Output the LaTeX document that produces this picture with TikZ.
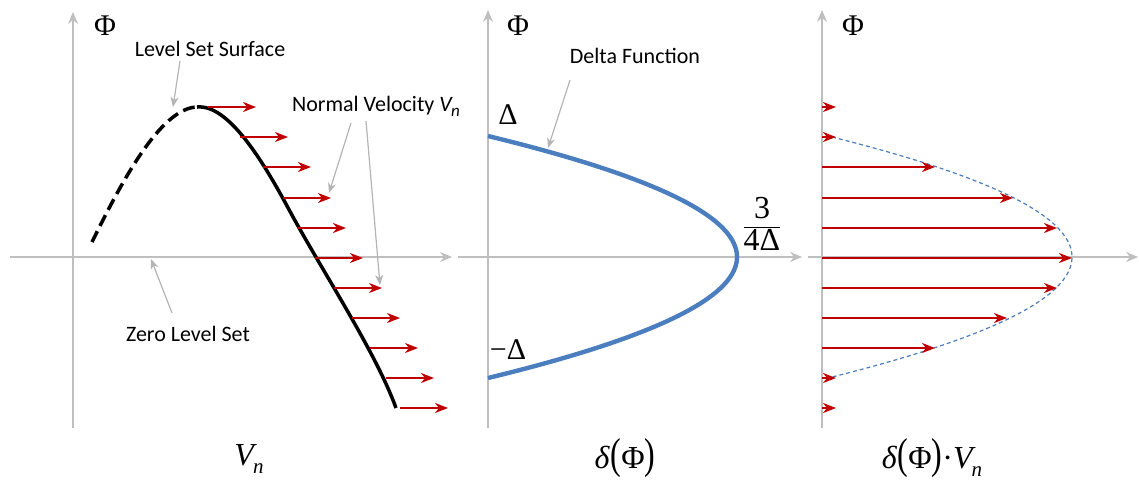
\documentclass[tikz,border=0pt]{standalone}
\usepackage{fontspec}
\usepackage{graphicx}
\setmainfont{Carlito}
\newfontfamily\serif{Liberation Serif}
\usetikzlibrary{arrows.meta}
\definecolor{axisgray}{HTML}{BFBFBF}
\definecolor{ptgray}{HTML}{B4B4B4}
\definecolor{vred}{HTML}{C00000}
\definecolor{dblue}{HTML}{4A7EBF}
\newcommand{\myVn}{{\serif\itshape V\kern-0.5pt\raisebox{-4pt}{\fontsize{10.5}{10.5}\selectfont n}}}
\newcommand{\mydelta}{{\serif\itshape δ\kern0.5pt\upshape\scalebox{1}[1.35]{(}Φ\scalebox{1}[1.35]{)}}}
\begin{document}
\begin{tikzpicture}[x=0.5pt,y=-0.5pt,
  axis/.style={draw=axisgray, line width=0.65pt, -{Stealth[length=6pt,width=5pt,inset=2pt]}},
  pointer/.style={draw=ptgray, line width=0.6pt, -{Stealth[length=5pt,width=4pt,inset=1.5pt]}},
  vel/.style={draw=vred, line width=1pt, -{Stealth[length=6.5pt,width=5pt,inset=2pt]}},
  lbl/.style={font=\fontsize{11}{13}\selectfont, inner sep=0pt},
  greek/.style={font=\fontsize{15}{17}\serif, inner sep=0pt},
  bigl/.style={font=\fontsize{16}{18}\serif, inner sep=0pt}]
\useasboundingbox (0,0) rectangle (1139,479);

% ---------- axes ----------
\coordinate (a1b) at (73,428);  \coordinate (a1t) at (73,12);
\coordinate (a1l) at (10,257);  \coordinate (a1r) at (452,257);
\coordinate (a2b) at (488,428); \coordinate (a2t) at (488,10);
\coordinate (a2l) at (458,257); \coordinate (a2r) at (802,257);
\coordinate (a3b) at (822,428); \coordinate (a3t) at (822,10);
\coordinate (a3l) at (808,257); \coordinate (a3r) at (1138,257);
\draw[axis] (a1b) -- (a1t);
\draw[axis] (a1l) -- (a1r);
\draw[axis] (a2b) -- (a2t);
\draw[axis] (a2l) -- (a2r);
\draw[axis] (a3b) -- (a3t);
\draw[axis] (a3l) -- (a3r);

\node[greek] (phi1) at (105,26) {Φ};
\node[greek] (phi2) at (518,26) {Φ};
\node[greek] (phi3) at (853,26) {Φ};

% ---------- panel 1 ----------
\coordinate (c0) at (92,242);
\coordinate (c1) at (197,107);
\coordinate (c2) at (286,204);
\coordinate (c3) at (396,408);
\draw[line width=1.75pt, dash pattern=on 6pt off 3pt]
  (c0) .. controls (120,185) and (160,108) .. (c1);
\draw[line width=1.75pt]
  (c1) .. controls (228,104) and (262,160) .. (c2) .. controls (320,268) and (375,350) .. (c3);

\foreach \i/\ys/\xs in {1/107/208, 2/137/240, 3/167/263, 4/198/283, 5/228/298, 6/258/315, 7/288/334, 8/318/352, 9/348/370, 10/378/386, 11/408/400}{
  \coordinate (v\i s) at (\xs,\ys);
  \coordinate (v\i e) at (\xs+48,\ys);
  \draw[vel] (v\i s) -- (v\i e);
}

\node[lbl] (lss) at (210,49) {Level Set Surface};
\coordinate (lssT) at (180,61); \coordinate (lssH) at (173,107);
\draw[pointer] (lssT) -- (lssH);

\node[lbl] (nv) at (376,106) {Normal Velocity {\itshape V\kern-0.3pt\raisebox{-2.5pt}{\fontsize{8.5}{8.5}\selectfont n}}};
\coordinate (nvT1) at (351,123); \coordinate (nvH1) at (329,193);
\coordinate (nvT2) at (366,121); \coordinate (nvH2) at (380,285);
\draw[pointer] (nvT1) -- (nvH1);
\draw[pointer] (nvT2) -- (nvH2);

\node[lbl] (zls) at (188,334) {Zero Level Set};
\coordinate (zlsT) at (172,313); \coordinate (zlsH) at (151,259);
\draw[pointer] (zlsT) -- (zlsH);

\node[bigl] (lab1) at (249,459) {\myVn};

% ---------- panel 2 ----------
\draw[dblue, line width=2.2pt] plot[domain=-121:121, samples=80, smooth] ({488+249*(1-(\x/121)^2)},{257+\x});
\node[lbl] (df) at (635,56) {Delta Function};
\coordinate (dfT) at (570,80); \coordinate (dfH) at (548,148);
\draw[pointer] (dfT) -- (dfH);
\node[greek] (dp) at (508,115) {Δ};
\node[greek] (dm) at (508,350) {−Δ};
\node[inner sep=0pt] (frac) at (762,224) {$\displaystyle\frac{\hbox{\fontsize{16}{18}\serif 3}}{\hbox{\fontsize{16}{18}\serif 4Δ}}$};
\node[bigl] (lab2) at (625,458) {\mydelta};

% ---------- panel 3 ----------
\draw[dblue, line width=0.6pt, dash pattern=on 2pt off 1.5pt] plot[domain=-120:120, samples=80, smooth] ({832+240*(1-(\x/120)^2)},{257+\x});
\foreach \i/\ys/\xe in {1/107/836, 2/137/836, 3/167/935, 4/198/1013, 5/228/1057, 6/258/1072, 7/288/1057, 8/318/1007, 9/348/935, 10/378/836, 11/408/836}{
  \coordinate (w\i s) at (822,\ys);
  \coordinate (w\i e) at (\xe,\ys);
  \draw[vel] (w\i s) -- (w\i e);
}
\node[bigl] (lab3) at (932,458) {\mydelta{\serif·}\myVn};
\end{tikzpicture}
\end{document}
